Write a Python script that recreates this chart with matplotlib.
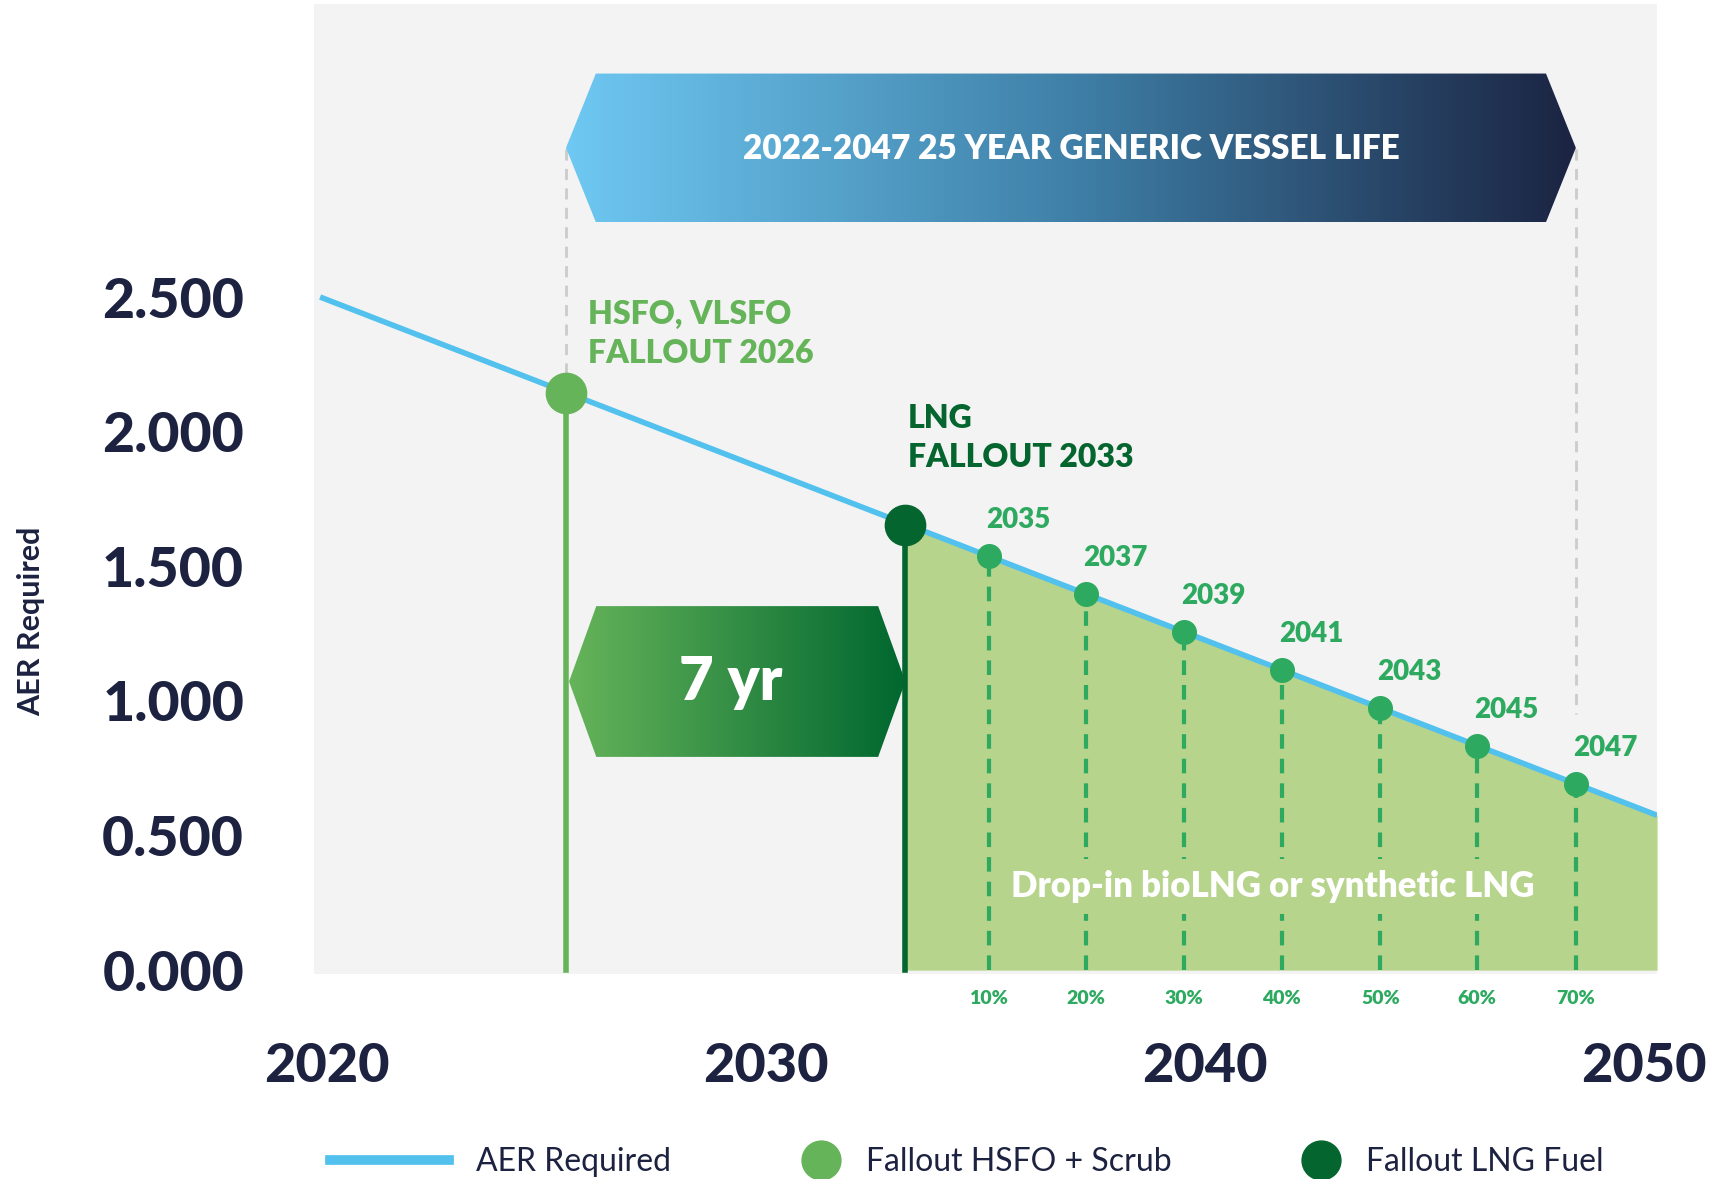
import numpy as np
import matplotlib.pyplot as plt
from matplotlib.patches import Polygon
from matplotlib.lines import Line2D
from matplotlib.legend_handler import HandlerLine2D
from matplotlib.colors import LinearSegmentedColormap

plt.rcParams['font.family'] = ['Lato', 'DejaVu Sans']

# AER required trajectory (ends of the straight line)
aer_years = [2019.85, 2050.3]
aer_values = [2.50, 0.575]

# fallout points, x is where the point sits on the year axis
hsfo_x, hsfo_y = 2025.45, 2.145
lng_x, lng_y = 2033.18, 1.655

blend_labels = ['2035', '2037', '2039', '2041', '2043', '2045', '2047']
blend_x = [2035.08, 2037.3, 2039.53, 2041.75, 2044.0, 2046.2, 2048.45]
blend_y = [1.538, 1.397, 1.256, 1.115, 0.972, 0.833, 0.690]
blend_pct = ['10%', '20%', '30%', '40%', '50%', '60%', '70%']

y_ticks = [0.0, 0.5, 1.0, 1.5, 2.0, 2.5]
x_ticks = [2020, 2030, 2040, 2050]

NAVY = '#1c2240'
BLUE = '#52c1ee'
LIGHT_G = '#66b45a'
DARK_G = '#05652f'
MID_G = '#2eaa60'
FILL_G = '#b6d48b'
BG = '#f3f3f3'

fig = plt.figure(figsize=(17.17, 11.79), dpi=100)
ax = fig.add_axes([0.1826, 0.1735, 0.7825, 0.8235])
ax.set_facecolor(BG)
for s in ax.spines.values():
    s.set_visible(False)


def gradient_arrow(x0, x1, y0, y1, tip, colors, z):
    ym = (y0 + y1) / 2
    verts = [(x0, ym), (x0 + tip, y1), (x1 - tip, y1), (x1, ym),
             (x1 - tip, y0), (x0 + tip, y0)]
    poly = Polygon(verts, closed=True, facecolor='none', edgecolor='none')
    ax.add_patch(poly)
    cmap = LinearSegmentedColormap.from_list('grad', colors)
    im = ax.imshow(np.linspace(0, 1, 256).reshape(1, -1), cmap=cmap,
                   extent=[x0, x1, y0, y1], aspect='auto', zorder=z,
                   interpolation='bicubic')
    im.set_clip_path(poly)


# green area under the line after LNG fallout
xs = np.linspace(lng_x, aer_years[1], 50)
ax.fill_between(xs, 0, np.interp(xs, aer_years, aer_values),
                color=FILL_G, lw=0, zorder=1)

# gray guide lines from the vessel life banner
ax.plot([hsfo_x, hsfo_x], [3.05, hsfo_y], color='#cbcbcb', lw=2,
        dashes=(4, 3), zorder=2)
ax.plot([blend_x[-1], blend_x[-1]], [3.05, 0.95], color='#cbcbcb', lw=2,
        dashes=(4, 3), zorder=2)

gradient_arrow(2025.45, 2048.45, 2.778, 3.33, 0.68,
               ['#6ec8f2', '#3f80a8', '#1b2442'], 3)
ax.text(2036.95, 3.05, '2022-2047 25 YEAR GENERIC VESSEL LIFE', color='white',
        fontsize=24, fontweight='heavy', ha='center', va='center', zorder=6)

gradient_arrow(2025.52, lng_x, 0.792, 1.352, 0.62, [LIGHT_G, '#00672f'], 3)
ax.text(2029.2, 1.07, '7 yr', color='white', fontsize=43, fontweight='heavy',
        ha='center', va='center', zorder=6)

# vertical fallout lines
ax.plot([hsfo_x, hsfo_x], [0, hsfo_y], color=LIGHT_G, lw=4, zorder=3)
ax.plot([lng_x, lng_x], [0, lng_y], color=DARK_G, lw=4, zorder=3)
for bx, by in zip(blend_x, blend_y):
    ax.plot([bx, bx], [0, by], color=MID_G, lw=3, dashes=(3.5, 2.4), zorder=3)

ax.plot(aer_years, aer_values, color=BLUE, lw=4, zorder=4,
        solid_capstyle='butt')

ax.plot([hsfo_x], [hsfo_y], 'o', color=LIGHT_G, ms=29, zorder=5)
ax.plot([lng_x], [lng_y], 'o', color=DARK_G, ms=29, zorder=5)
ax.plot(blend_x, blend_y, 'o', color=MID_G, ms=17, zorder=5)

for bx, by, lab in zip(blend_x, blend_y, blend_labels):
    ax.annotate(lab, (bx, by), xytext=(21, 26), textcoords='offset points',
                ha='center', va='center', color=MID_G, fontsize=20,
                fontweight='heavy', zorder=6)

for bx, lab in zip(blend_x, blend_pct):
    ax.text(bx, -0.025, lab, transform=ax.get_xaxis_transform(),
            ha='center', va='center', color=MID_G, fontsize=14,
            fontweight='heavy')

ax.text(2025.95, 2.363, 'HSFO, VLSFO\nFALLOUT 2026', color=LIGHT_G,
        fontsize=23, fontweight='heavy', ha='left', va='center',
        linespacing=1.4, zorder=6)
ax.text(2033.23, 1.977, 'LNG\nFALLOUT 2033', color=DARK_G,
        fontsize=23, fontweight='heavy', ha='left', va='center',
        linespacing=1.4, zorder=6)

ax.text(2041.55, 0.31, 'Drop-in bioLNG or synthetic LNG', color='white',
        fontsize=25, fontweight='heavy', ha='center', va='center', zorder=6,
        bbox=dict(facecolor=FILL_G, edgecolor='none', pad=8))

ax.set_xlim(2019.7, 2050.3)
ax.set_ylim(-0.016, 3.59)
ax.set_xticks(x_ticks)
ax.set_xticklabels([str(x) for x in x_ticks])
ax.set_yticks(y_ticks)
ax.set_yticklabels(['%.3f' % y for y in y_ticks])
ax.tick_params(length=0, colors=NAVY)
ax.tick_params(axis='y', pad=50, labelsize=40)
ax.tick_params(axis='x', pad=49, labelsize=39)
for lab in ax.get_xticklabels() + ax.get_yticklabels():
    lab.set_fontweight('black')

ax.set_ylabel('AER Required', color=NAVY, fontsize=22, fontweight='bold')
ax.yaxis.set_label_coords(-0.2, 0.3635)


class RightMarker(HandlerLine2D):
    # put the single marker at the right end of the handle box
    def get_xdata(self, legend, xdescent, ydescent, width, height, fontsize):
        x1 = width - xdescent
        return [x1 - 1.1 * fontsize, x1], None


handles = [Line2D([], [], color=BLUE, lw=7),
           Line2D([], [], ls='none', marker='o', color=LIGHT_G, ms=28),
           Line2D([], [], ls='none', marker='o', color=DARK_G, ms=28)]
fig.legend(handles, ['AER Required', 'Fallout HSFO + Scrub', 'Fallout LNG Fuel'],
           loc='center', bbox_to_anchor=(0.563, 0.014), ncol=3, frameon=False,
           fontsize=23, labelcolor=NAVY, handlelength=3.73, handletextpad=0.85,
           columnspacing=1.5,
           handler_map={handles[1]: RightMarker(), handles[2]: RightMarker()})

fig.savefig('out.png', dpi=100)
